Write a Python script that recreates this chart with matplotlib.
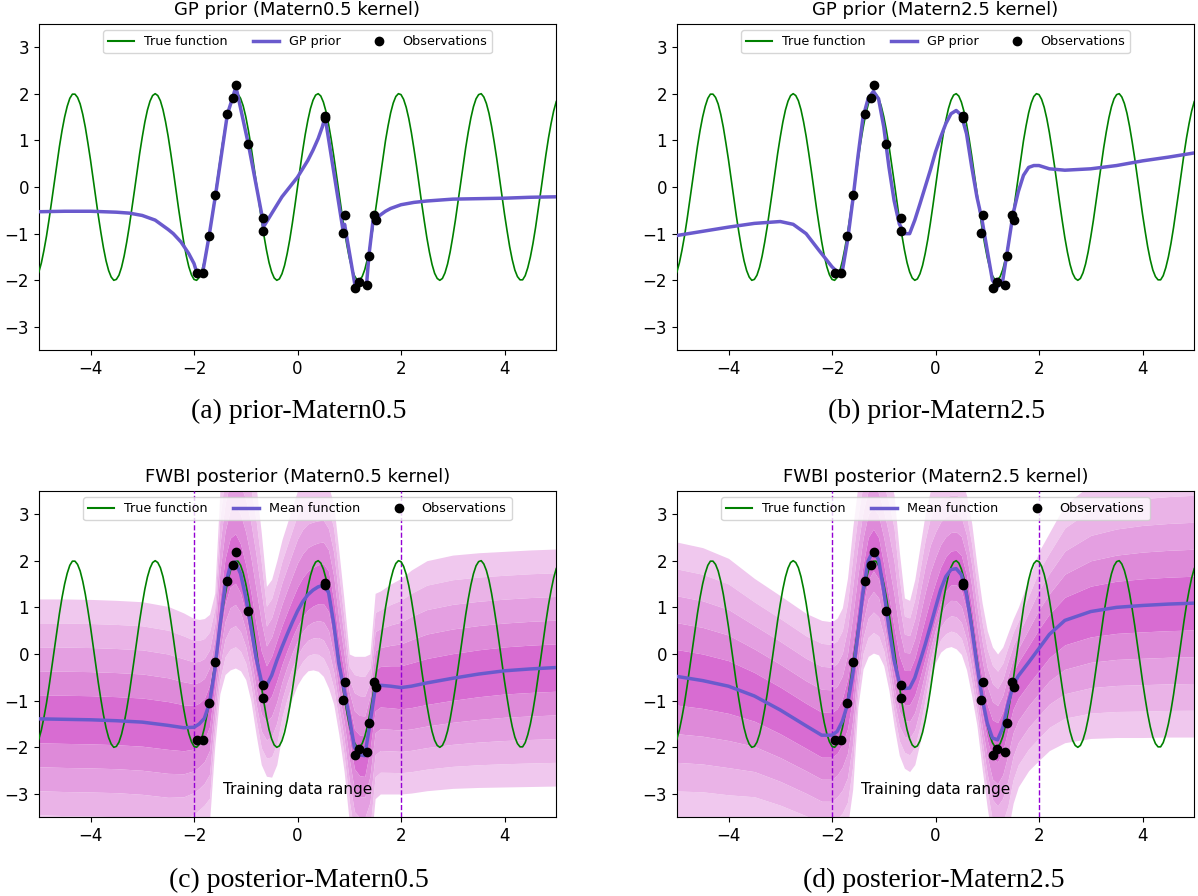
import numpy as np
import matplotlib
matplotlib.use("Agg")
import matplotlib.pyplot as plt
from matplotlib.lines import Line2D

# ---------------- data ----------------
# True function sampled every 0.05 on [-5, 5]
TRUE_X = np.linspace(-5, 5, 201)
TRUE_Y = [-1.83, -1.63, -1.36, -1.05, -0.69, -0.30, 0.10, 0.49, 0.87, 1.21, 1.50, 1.73, 1.90,
          1.99, 1.99, 1.92, 1.78, 1.56, 1.28, 0.94, 0.58, 0.18, -0.22, -0.61, -0.97, -1.30,
          -1.58, -1.79, -1.93, -2.00, -1.98, -1.89, -1.72, -1.48, -1.18, -0.84, -0.46, -0.07,
          0.33, 0.72, 1.07, 1.39, 1.65, 1.84, 1.96, 2.00, 1.96, 1.85, 1.66, 1.40, 1.09, 0.73,
          0.35, -0.05, -0.45, -0.82, -1.17, -1.47, -1.71, -1.88, -1.98, -2.00, -1.94, -1.80,
          -1.59, -1.31, -0.99, -0.62, -0.23, 0.17, 0.56, 0.93, 1.26, 1.55, 1.77, 1.92, 1.99,
          1.99, 1.90, 1.74, 1.51, 1.22, 0.89, 0.51, 0.12, -0.28, -0.67, -1.03, -1.35, -1.62,
          -1.82, -1.95, -2.00, -1.97, -1.86, -1.68, -1.43, -1.13, -0.78, -0.40, 0.00, 0.40,
          0.78, 1.13, 1.43, 1.68, 1.86, 1.97, 2.00, 1.95, 1.82, 1.62, 1.35, 1.03, 0.67, 0.28,
          -0.12, -0.51, -0.89, -1.22, -1.51, -1.74, -1.90, -1.99, -1.99, -1.92, -1.77, -1.55,
          -1.26, -0.93, -0.56, -0.17, 0.23, 0.62, 0.99, 1.31, 1.59, 1.80, 1.94, 2.00, 1.98,
          1.88, 1.71, 1.47, 1.17, 0.82, 0.45, 0.05, -0.35, -0.73, -1.09, -1.40, -1.66, -1.85,
          -1.96, -2.00, -1.96, -1.84, -1.65, -1.39, -1.07, -0.72, -0.33, 0.07, 0.46, 0.84,
          1.18, 1.48, 1.72, 1.89, 1.98, 2.00, 1.93, 1.79, 1.58, 1.30, 0.97, 0.61, 0.22, -0.18,
          -0.58, -0.94, -1.28, -1.56, -1.78, -1.92, -1.99, -1.99, -1.90, -1.73, -1.50, -1.21,
          -0.87, -0.49, -0.10, 0.30, 0.69, 1.05, 1.36, 1.63, 1.83]

OBS_X = [-1.95, -1.83, -1.71, -1.585, -1.355, -1.255, -1.19, -0.95, -0.675, -0.67,
         0.525, 0.53, 0.88, 0.91, 1.11, 1.18, 1.335, 1.38, 1.47, 1.51]
OBS_Y = [-1.84, -1.84, -1.06, -0.18, 1.56, 1.91, 2.19, 0.92, -0.66, -0.94,
         1.52, 1.47, -0.99, -0.61, -2.16, -2.04, -2.09, -1.47, -0.61, -0.70]

PRIOR_A_X = [-5, -4.5, -4, -3.5, -3.25, -3, -2.75, -2.5, -2.4, -2.25, -2.1, -2.0, -1.95, -1.83,
             -1.71, -1.585, -1.355, -1.255, -1.19, -0.95, -0.675, -0.66, -0.5, -0.3, -0.1,
             0.0, 0.1, 0.2, 0.3, 0.4, 0.48, 0.525, 0.54, 0.88, 0.91, 1.11, 1.18, 1.335, 1.38,
             1.47, 1.51, 1.6, 1.7, 1.8, 2.0, 2.25, 2.5, 3.0, 3.5, 4.0, 4.5, 5.0]
PRIOR_A_Y = [-0.53, -0.52, -0.52, -0.54, -0.56, -0.61, -0.71, -0.91, -1.0, -1.18, -1.43,
             -1.64, -1.82, -1.82, -1.06, -0.18, 1.56, 1.91, 2.15, 0.92, -0.68, -0.86, -0.57,
             -0.21, 0.07, 0.21, 0.39, 0.57, 0.79, 1.04, 1.29, 1.47, 1.45, -0.93, -0.80,
             -2.10, -2.04, -2.08, -1.47, -0.62, -0.68, -0.60, -0.52, -0.46, -0.38, -0.33,
             -0.30, -0.26, -0.25, -0.24, -0.22, -0.21]

PRIOR_B_X = [-5, -4.5, -4, -3.5, -3, -2.75, -2.5, -2.25, -2.0, -1.9, -1.8, -1.7, -1.6, -1.5,
             -1.4, -1.3, -1.2, -1.1, -1.0, -0.9, -0.8, -0.7, -0.6, -0.5, -0.4, -0.3, -0.2,
             -0.1, 0.0, 0.1, 0.2, 0.3, 0.4, 0.5, 0.6, 0.7, 0.8, 0.9, 1.0, 1.1, 1.2, 1.3,
             1.4, 1.5, 1.6, 1.7, 1.8, 1.9, 2.0, 2.2, 2.5, 3.0, 3.5, 4.0, 4.5, 5.0]
PRIOR_B_Y = [-1.04, -0.95, -0.86, -0.78, -0.74, -0.80, -1.0, -1.36, -1.71, -1.82, -1.80,
             -1.15, -0.30, 0.64, 1.50, 1.90, 2.05, 1.89, 1.29, 0.43, -0.29, -0.79, -1.0,
             -1.0, -0.71, -0.36, 0.0, 0.36, 0.75, 1.07, 1.36, 1.57, 1.64, 1.54, 1.14, 0.43,
             -0.21, -0.71, -1.36, -2.0, -2.14, -2.0, -1.29, -0.57, -0.10, 0.25, 0.42, 0.46,
             0.46, 0.39, 0.36, 0.39, 0.46, 0.56, 0.64, 0.73]

POST_X = [-5, -4.5, -4, -3.5, -3, -2.5, -2.2, -2.0, -1.9, -1.8, -1.7, -1.6, -1.5, -1.4,
          -1.3, -1.2, -1.1, -1.0, -0.9, -0.8, -0.7, -0.6, -0.5, -0.4, -0.3, -0.2, -0.1,
          0.0, 0.1, 0.2, 0.3, 0.4, 0.5, 0.6, 0.7, 0.8, 0.9, 1.0, 1.1, 1.2, 1.3, 1.4, 1.5,
          1.6, 1.8, 2.0, 2.2, 2.5, 3.0, 3.5, 4.0, 4.5, 5.0]

MEAN_C = [-1.39, -1.40, -1.41, -1.43, -1.46, -1.53, -1.58, -1.57, -1.50, -1.38, -1.05,
          -0.35, 0.60, 1.45, 1.88, 1.97, 1.72, 1.22, 0.58, -0.08, -0.57, -0.68, -0.46,
          -0.14, 0.15, 0.42, 0.68, 0.92, 1.12, 1.27, 1.37, 1.44, 1.47, 1.32, 0.65, -0.22,
          -0.75, -1.35, -2.00, -2.16, -2.18, -1.50, -0.75, -0.67, -0.69, -0.72, -0.69,
          -0.62, -0.52, -0.43, -0.36, -0.32, -0.29]
UP_C = [1.18, 1.18, 1.17, 1.15, 1.12, 1.02, 0.88, 0.76, 0.74, 0.76, 0.85, 1.3, 3.5, 4.4,
        4.9, 5.0, 4.9, 4.7, 4.3, 3.6, 2.6, 1.45, 1.6, 2.0, 2.45, 2.8, 3.15, 3.5, 3.7, 3.8,
        3.8, 3.8, 3.8, 3.6, 3.2, 2.2, 1.15, 0.0, -0.05, -0.05, -0.05, 0.0, 1.3, 1.35, 1.5,
        1.62, 1.8, 2.0, 2.12, 2.17, 2.2, 2.23, 2.25]
LO_C = [-3.96, -3.98, -3.99, -4.0, -4.04, -4.1, -4.05, -3.9, -3.8, -3.7, -3.6, -2.0, -0.85,
        -0.44, -0.34, -0.30, -0.36, -0.55, -1.01, -1.73, -2.37, -2.62, -2.64, -2.37, -1.73,
        -1.30, -0.94, -0.66, -0.48, -0.36, -0.34, -0.37, -0.48, -0.73, -1.08, -1.73, -2.51,
        -3.6, -4.3, -4.4, -4.4, -4.3, -3.1, -3.0, -3.0, -3.0, -2.98, -2.93, -2.88, -2.86,
        -2.85, -2.84, -2.83]

MEAN_D = [-0.48, -0.57, -0.69, -0.90, -1.20, -1.54, -1.74, -1.74, -1.66, -1.44, -1.08,
          -0.44, 0.41, 1.34, 2.0, 2.22, 2.02, 1.36, 0.56, -0.14, -0.60, -0.74, -0.73,
          -0.51, -0.16, 0.20, 0.59, 0.99, 1.38, 1.66, 1.81, 1.83, 1.70, 1.27, 0.56, -0.23,
          -0.94, -1.48, -1.80, -1.84, -1.58, -1.08, -0.68, -0.47, -0.18, 0.12, 0.42, 0.72,
          0.91, 1.0, 1.04, 1.07, 1.09]
UP_D = [2.40, 2.28, 2.05, 1.62, 1.25, 0.87, 0.72, 0.69, 0.77, 0.99, 1.63, 2.70, 3.6, 4.2,
        4.5, 4.5, 4.4, 4.2, 3.9, 3.4, 2.2, 1.2, 1.15, 1.6, 2.3, 3.0, 3.5, 3.7, 3.8, 3.8,
        3.8, 3.8, 3.75, 3.4, 2.8, 1.9, 1.1, 0.5, 0.15, 0.0, 0.15, 0.45, 0.75, 1.0, 1.6,
        2.2, 2.6, 3.2, 3.63, 3.8, 3.9, 3.95, 3.98]
LO_D = [-3.55, -3.55, -3.6, -3.6, -3.75, -3.95, -4.1, -4.1, -4.0, -3.9, -3.7, -2.9, -1.14,
        -0.32, -0.05, 0.02, -0.02, -0.25, -0.78, -1.55, -2.17, -2.45, -2.52, -2.37, -1.90,
        -1.27, -0.60, -0.18, 0.04, 0.13, 0.16, 0.11, -0.01, -0.34, -0.90, -1.53, -2.45,
        -3.3, -4.0, -4.2, -4.1, -3.8, -3.2, -2.85, -2.5, -2.28, -2.07, -1.9, -1.81, -1.79,
        -1.79, -1.78, -1.78]

TITLES = ["GP prior (Matern0.5 kernel)", "GP prior (Matern2.5 kernel)",
          "FWBI posterior (Matern0.5 kernel)", "FWBI posterior (Matern2.5 kernel)"]
CAPTIONS = ["(a) prior-Matern0.5", "(b) prior-Matern2.5",
            "(c) posterior-Matern0.5", "(d) posterior-Matern2.5"]
XTICKS = [-4, -2, 0, 2, 4]
YTICKS = [-3, -2, -1, 0, 1, 2, 3]
TRAIN_RANGE = [-2, 2]

# ---------------- style ----------------
GREEN = "green"
BLUE = "#6a5acd"
BAND_COLORS = ["#f0c8ee", "#eab3e7", "#e49fe1", "#de8ad9", "#d86cd2"]

W, H = 1198, 896
fig = plt.figure(figsize=(W / 100, H / 100), dpi=100)


def rect(left_px, top_px, right_px, bottom_px):
    return [left_px / W, 1 - bottom_px / H, (right_px - left_px) / W, (bottom_px - top_px) / H]


axes = [fig.add_axes(rect(38.75, 23.7, 556.25, 350.3)),
        fig.add_axes(rect(676.75, 23.7, 1194.25, 350.3)),
        fig.add_axes(rect(38.75, 490.7, 556.25, 817.3)),
        fig.add_axes(rect(676.75, 490.7, 1194.25, 817.3))]
cap_pos = [(299, 411), (936, 411), (299, 880), (934, 880)]


def draw_bands(ax, x, m, up, lo):
    x = np.asarray(x, float)
    m = np.asarray(m, float)
    du = np.asarray(up, float) - m
    dl = m - np.asarray(lo, float)
    n = len(BAND_COLORS)
    for k, col in enumerate(BAND_COLORS):
        outer, inner = n - k, n - k - 1
        ax.fill_between(x, m + du * inner / n, m + du * outer / n, color=col, lw=0, zorder=1)
        ax.fill_between(x, m - dl * outer / n, m - dl * inner / n, color=col, lw=0, zorder=1)


for i, ax in enumerate(axes):
    posterior = i >= 2
    if posterior:
        m = MEAN_C if i == 2 else MEAN_D
        up = UP_C if i == 2 else UP_D
        lo = LO_C if i == 2 else LO_D
        draw_bands(ax, POST_X, m, up, lo)
        for xv in TRAIN_RANGE:
            ax.axvline(xv, color="darkviolet", lw=1.0, ls="--", zorder=3)
        ax.text(0, -2.9, "Training data range", ha="center", va="center", fontsize=11, zorder=4)
        cx, cy, lab = POST_X, m, "Mean function"
    else:
        cx, cy = (PRIOR_A_X, PRIOR_A_Y) if i == 0 else (PRIOR_B_X, PRIOR_B_Y)
        lab = "GP prior"
    ax.plot(TRUE_X, TRUE_Y, color=GREEN, lw=1.2, zorder=4)
    ax.plot(cx, cy, color=BLUE, lw=2.5, zorder=5, solid_joinstyle="round")
    ax.plot(OBS_X, OBS_Y, "o", color="black", ms=6, zorder=6)
    ax.set_xlim(-5, 5)
    ax.set_ylim(-3.5, 3.5)
    ax.set_xticks(XTICKS)
    ax.set_yticks(YTICKS)
    ax.tick_params(labelsize=12)
    ax.set_title(TITLES[i], fontsize=13)
    handles = [Line2D([], [], color=GREEN, lw=1.5),
               Line2D([], [], color=BLUE, lw=2.5),
               Line2D([], [], marker="o", color="black", ls="none", ms=6)]
    ax.legend(handles, ["True function", lab, "Observations"], loc="upper center",
              ncol=3, fontsize=9.2)
    fig.text(cap_pos[i][0] / W, 1 - cap_pos[i][1] / H, CAPTIONS[i], ha="center", va="center",
             fontsize=20, family="Liberation Serif")

fig.savefig("out.png", dpi=100)
